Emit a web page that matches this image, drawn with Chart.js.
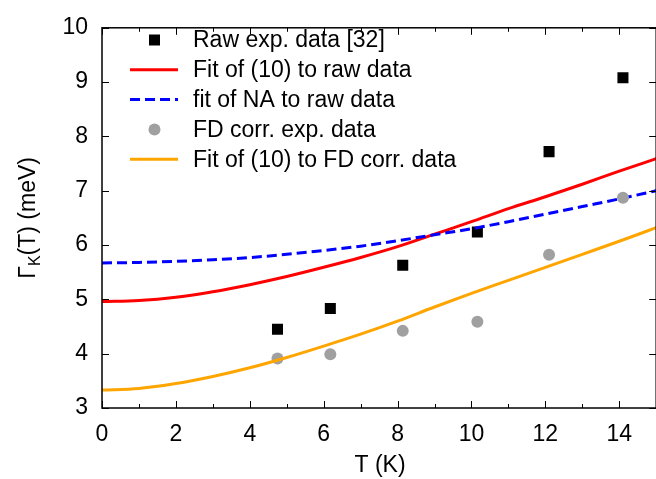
<!DOCTYPE html>
<html>
<head>
<meta charset="utf-8">
<script src="https://cdn.jsdelivr.net/npm/chart.js@4.4.1/dist/chart.umd.min.js"></script>
<style>
  html, body { margin: 0; padding: 0; overflow: hidden; background: #fff; }
  canvas { display: block; }
</style>
</head>
<body>
<canvas id="myChart" width="664" height="479"></canvas>
<script>
// measured points
const expTemps = [4.75, 6.18, 8.14, 10.16, 12.1, 14.1];
const rawGamma = [4.45, 4.83, 5.63, 6.24, 7.72, 9.08];
const fdGamma = [3.91, 3.99, 4.42, 4.59, 5.82, 6.87];

const fitTemps = [0, 1, 2, 3, 4, 5, 6, 7, 8, 9, 10, 11, 12, 13, 14, 15];
const fitRaw = [4.96, 4.98, 5.04, 5.14, 5.27, 5.42, 5.59, 5.77, 5.97, 6.2, 6.43, 6.67, 6.89, 7.12, 7.36, 7.59];
const fitNA = [5.67, 5.68, 5.70, 5.73, 5.77, 5.83, 5.90, 5.98, 6.08, 6.19, 6.30, 6.43, 6.57, 6.71, 6.85, 7.0];
const fitFD = [3.33, 3.36, 3.45, 3.58, 3.74, 3.93, 4.14, 4.36, 4.60, 4.86, 5.11, 5.35, 5.59, 5.83, 6.07, 6.32];

const xTicks = [0, 2, 4, 6, 8, 10, 12, 14];
const xMinorTicks = [1, 3, 5, 7, 9, 11, 13];
const yTicks = [3, 4, 5, 6, 7, 8, 9, 10];

const FONT = '"Liberation Sans", Arial, Helvetica, sans-serif';

const toXY = (xs, ys) => xs.map((v, i) => ({ x: v, y: ys[i] }));

const ctx = document.getElementById('myChart').getContext('2d');

const frame = {
  id: 'frame',
  afterDatasetsDraw(chart) {
    const { ctx, chartArea: a, scales: { x, y } } = chart;
    ctx.save();
    ctx.strokeStyle = '#000';
    ctx.lineWidth = 1;
    ctx.beginPath();
    const xMark = (v, len) => {
      const px = Math.round(x.getPixelForValue(v)) + 0.5;
      ctx.moveTo(px, a.bottom); ctx.lineTo(px, a.bottom - len);
      ctx.moveTo(px, a.top); ctx.lineTo(px, a.top + len);
    };
    xTicks.forEach((v) => xMark(v, 7));
    xMinorTicks.forEach((v) => xMark(v, 4));
    yTicks.forEach((v) => {
      const py = Math.round(y.getPixelForValue(v)) + 0.5;
      ctx.moveTo(a.left, py); ctx.lineTo(a.left + 7, py);
      ctx.moveTo(a.right, py); ctx.lineTo(a.right - 7, py);
    });
    ctx.stroke();
    ctx.lineWidth = 1.5;
    ctx.strokeRect(a.left, a.top, a.right - a.left, a.bottom - a.top);

    // axis titles
    ctx.fillStyle = '#000';
    ctx.font = `23px ${FONT}`;
    ctx.textAlign = 'center';
    ctx.textBaseline = 'middle';
    ctx.fillText('T (K)', 380, 466);

    ctx.translate(27, (a.top + a.bottom) / 2);
    ctx.rotate(-Math.PI / 2);
    ctx.textAlign = 'left';
    ctx.textBaseline = 'alphabetic';
    const big = `23px ${FONT}`;
    const small = `16px ${FONT}`;
    ctx.font = big;
    const w1 = ctx.measureText('Γ').width;
    const w3 = ctx.measureText('(T) (meV)').width;
    ctx.font = small;
    const w2 = ctx.measureText('K').width;
    let cx = -(w1 + w2 + w3) / 2;
    const base = 8;
    ctx.font = big;
    ctx.fillText('Γ', cx, base);
    cx += w1;
    ctx.font = small;
    ctx.fillText('K', cx, base + 5);
    cx += w2;
    ctx.font = big;
    ctx.fillText('(T) (meV)', cx, base);
    ctx.restore();
  },
  afterDraw(chart) {
    // key in the upper left corner, gnuplot style
    const { ctx } = chart;
    ctx.save();
    ctx.font = `23px ${FONT}`;
    ctx.textBaseline = 'middle';
    ctx.textAlign = 'left';
    chart.data.datasets.forEach((ds, i) => {
      const yy = 40 + i * 29.8;
      if (ds.showLine) {
        ctx.strokeStyle = ds.borderColor;
        ctx.lineWidth = ds.borderWidth;
        ctx.setLineDash(ds.borderDash || []);
        ctx.beginPath();
        ctx.moveTo(130, yy);
        ctx.lineTo(178, yy);
        ctx.stroke();
        ctx.setLineDash([]);
      } else {
        ctx.fillStyle = ds.backgroundColor;
        ctx.beginPath();
        if (ds.pointStyle === 'rect') {
          ctx.rect(149, yy - 5.5, 11, 11);
        } else {
          ctx.arc(154.5, yy, 6, 0, Math.PI * 2);
        }
        ctx.fill();
      }
      ctx.fillStyle = '#000';
      ctx.fillText(ds.label, 193, yy + 1);
    });
    ctx.restore();
  },
};

const chart = new Chart(ctx, {
  type: 'scatter',
  data: {
    datasets: [
      {
        label: 'Raw exp. data [32]',
        data: toXY(expTemps, rawGamma),
        pointStyle: 'rect',
        pointRadius: 7.8,
        pointBorderWidth: 0,
        backgroundColor: '#000000',
        borderColor: '#000000',
        showLine: false,
        order: 5,
      },
      {
        label: 'Fit of (10) to raw data',
        data: toXY(fitTemps, fitRaw),
        showLine: true,
        borderColor: '#ff0000',
        borderWidth: 3,
        pointRadius: 0,
        cubicInterpolationMode: 'monotone',
        order: 4,
      },
      {
        label: 'fit of NA to raw data',
        data: toXY(fitTemps, fitNA),
        showLine: true,
        borderColor: '#0000ff',
        borderWidth: 3,
        borderDash: [10, 5],
        pointRadius: 0,
        cubicInterpolationMode: 'monotone',
        order: 3,
      },
      {
        label: 'FD corr. exp. data',
        data: toXY(expTemps, fdGamma),
        pointStyle: 'circle',
        pointRadius: 6,
        pointBorderWidth: 0,
        backgroundColor: '#a0a0a0',
        borderColor: '#a0a0a0',
        showLine: false,
        order: 2,
      },
      {
        label: 'Fit of (10) to FD corr. data',
        data: toXY(fitTemps, fitFD),
        showLine: true,
        borderColor: '#ffa500',
        borderWidth: 3,
        pointRadius: 0,
        cubicInterpolationMode: 'monotone',
        order: 1,
      },
    ],
  },
  options: {
    responsive: false,
    animation: false,
    devicePixelRatio: 1,
    layout: { padding: { top: 17, right: 4, left: 0, bottom: 0 } },
    scales: {
      x: {
        type: 'linear',
        min: 0,
        max: 15,
        afterBuildTicks: (scale) => { scale.ticks = xTicks.map((v) => ({ value: v })); },
        afterFit: (scale) => { scale.height = 71; },
        grid: { display: false, drawTicks: false },
        border: { display: false },
        ticks: {
          padding: 13,
          color: '#000',
          maxRotation: 0,
          autoSkip: false,
          font: { family: FONT, size: 23 },
        },
      },
      y: {
        type: 'linear',
        min: 3,
        max: 10,
        afterBuildTicks: (scale) => { scale.ticks = yTicks.map((v) => ({ value: v })); },
        afterFit: (scale) => { scale.width = 102; },
        grid: { display: false, drawTicks: false },
        border: { display: false },
        ticks: {
          padding: 14,
          color: '#000',
          font: { family: FONT, size: 23 },
        },
      },
    },
    plugins: {
      legend: { display: false },
      tooltip: { enabled: false },
    },
  },
  plugins: [frame],
});
</script>
</body>
</html>
